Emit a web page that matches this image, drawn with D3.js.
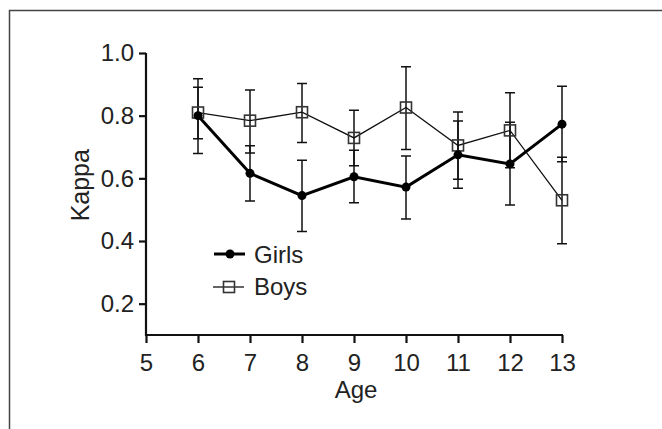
<!DOCTYPE html>
<html>
<head>
<meta charset="utf-8">
<script src="https://cdn.jsdelivr.net/npm/d3@7"></script>
<style>
  body { margin: 0; background: #fff; }
  text { font-family: "Liberation Sans", Arial, sans-serif; fill: #222; }
</style>
</head>
<body>
<div id="chart"></div>
<script>
const width = 662, height = 429;

// Values
const ages = [6, 7, 8, 9, 10, 11, 12, 13];
const girls = [0.80, 0.616, 0.545, 0.605, 0.572, 0.675, 0.646, 0.773];
const girlsUpper = [0.918, 0.704, 0.658, 0.690, 0.671, 0.783, 0.779, 0.894];
const girlsLower = [0.679, 0.528, 0.430, 0.522, 0.470, 0.568, 0.515, 0.653];
const boys = [0.81, 0.784, 0.811, 0.729, 0.826, 0.705, 0.753, 0.530];
const boysUpper = [0.891, 0.882, 0.903, 0.817, 0.956, 0.812, 0.873, 0.667];
const boysLower = [0.726, 0.681, 0.714, 0.640, 0.692, 0.597, 0.634, 0.391];
const xTicks = [5, 6, 7, 8, 9, 10, 11, 12, 13];
const yTicks = [0.2, 0.4, 0.6, 0.8, 1.0];

const svg = d3.select("#chart").append("svg")
    .attr("width", width)
    .attr("height", height);

// frame (top + left edges only)
svg.append("path")
    .attr("d", `M9.5,${height} V10.5 H${width}`)
    .attr("fill", "none")
    .attr("stroke", "#444")
    .attr("stroke-width", 1.5);

const x = d3.scaleLinear().domain([5, 13]).range([146, 562]);
const y = d3.scaleLinear().domain([0.1, 1.0]).range([335, 53]);

// axes
const xAxis = svg.append("g")
    .attr("transform", `translate(0,${y(0.1)})`)
    .call(d3.axisBottom(x).tickValues(xTicks).tickSize(8).tickPadding(11).tickSizeOuter(0));
const yAxis = svg.append("g")
    .attr("transform", `translate(${x(5)},0)`)
    .call(d3.axisLeft(y).tickValues(yTicks).tickSize(7).tickPadding(5)
        .tickFormat(d3.format(".1f")).tickSizeOuter(0));

[xAxis, yAxis].forEach(a => {
    a.select(".domain").attr("stroke", "#111").attr("stroke-width", 2.2);
    a.selectAll(".tick line").attr("stroke", "#111").attr("stroke-width", 2.2);
    a.selectAll(".tick text")
        .style("font-size", "24px")
        .attr("fill", "#222");
});
// y axis runs from 1.0 down to the x axis
yAxis.select(".domain").attr("d", `M0,${y(1.0)}V${y(0.1) + 1}`);
xAxis.select(".domain").attr("d", `M${x(5) - 1},0H${x(13) + 1}`);

// axis titles
svg.append("text")
    .attr("x", 356).attr("y", 398)
    .attr("text-anchor", "middle")
    .style("font-size", "24px")
    .text("Age");
svg.append("text")
    .attr("transform", `translate(89,${y(0.578)}) rotate(-90)`)
    .attr("text-anchor", "middle")
    .style("font-size", "25px")
    .text("Kappa");

// error bars
const capW = 5;
function errorBars(upper, lower) {
    const g = svg.append("g").attr("stroke", "#111").attr("stroke-width", 1.5).attr("fill", "none");
    ages.forEach((a, i) => {
        const cx = x(a);
        g.append("path").attr("d",
            `M${cx},${y(upper[i])}V${y(lower[i])}` +
            `M${cx - capW},${y(upper[i])}H${cx + capW}` +
            `M${cx - capW},${y(lower[i])}H${cx + capW}`);
    });
}
errorBars(boysUpper, boysLower);
errorBars(girlsUpper, girlsLower);

const line = d3.line().x((d, i) => x(ages[i])).y(d => y(d));

// boys
svg.append("path").datum(boys)
    .attr("d", line).attr("fill", "none")
    .attr("stroke", "#111").attr("stroke-width", 1.3);
svg.selectAll(".boy").data(boys).enter().append("rect")
    .attr("class", "boy")
    .attr("x", (d, i) => x(ages[i]) - 5.5)
    .attr("y", d => y(d) - 5.5)
    .attr("width", 11).attr("height", 11)
    .attr("fill", "none")
    .attr("stroke", "#333").attr("stroke-width", 1.6);

// girls
svg.append("path").datum(girls)
    .attr("d", line).attr("fill", "none")
    .attr("stroke", "#000").attr("stroke-width", 3);
svg.selectAll(".girl").data(girls).enter().append("circle")
    .attr("class", "girl")
    .attr("cx", (d, i) => x(ages[i]))
    .attr("cy", d => y(d))
    .attr("r", 4.5)
    .attr("fill", "#000");

// legend
const lg = svg.append("g");
lg.append("line").attr("x1", 214).attr("x2", 245).attr("y1", 254).attr("y2", 254)
    .attr("stroke", "#000").attr("stroke-width", 3);
lg.append("circle").attr("cx", 230).attr("cy", 254).attr("r", 4.5).attr("fill", "#000");
lg.append("text").attr("x", 254).attr("y", 263).style("font-size", "24px").text("Girls");

lg.append("line").attr("x1", 213).attr("x2", 244).attr("y1", 287).attr("y2", 287)
    .attr("stroke", "#111").attr("stroke-width", 1.3);
lg.append("rect").attr("x", 223.5).attr("y", 281.5).attr("width", 11).attr("height", 11)
    .attr("fill", "none").attr("stroke", "#333").attr("stroke-width", 1.6);
lg.append("text").attr("x", 254).attr("y", 295).style("font-size", "24px").text("Boys");
</script>
</body>
</html>
